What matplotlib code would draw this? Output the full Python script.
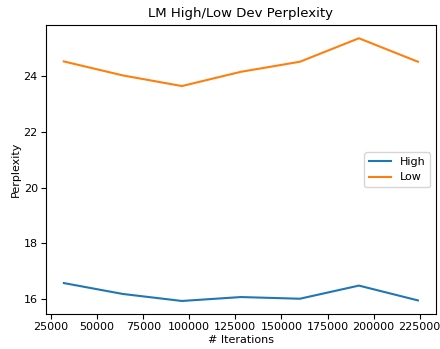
import matplotlib
matplotlib.use("Agg")
import matplotlib.pyplot as plt

# Iteraciones y perplejidad en dev
iteraciones = [32000, 64000, 96000, 128000, 160000, 192000, 224000]
high = [16.58, 16.19, 15.94, 16.08, 16.02, 16.49, 15.96]
low = [24.51, 24.01, 23.63, 24.14, 24.50, 25.34, 24.50]

plt.rcParams['font.size'] = 8
plt.rcParams['xtick.major.pad'] = 2.5
plt.rcParams['ytick.major.pad'] = 2.5

fig = plt.figure(figsize=(4.4, 3.49), dpi=100)
ax = fig.add_subplot(111)
fig.subplots_adjust(left=0.105, right=0.99, top=0.928, bottom=0.1)

ax.plot(iteraciones, high, label="High")
ax.plot(iteraciones, low, label="Low")

ax.set_title("LM High/Low Dev Perplexity", fontsize=9.5)
ax.set_xlabel("# Iterations", labelpad=1.5)
ax.set_ylabel("Perplexity", labelpad=2)
ax.legend(loc="center right")

fig.savefig("out.png")
